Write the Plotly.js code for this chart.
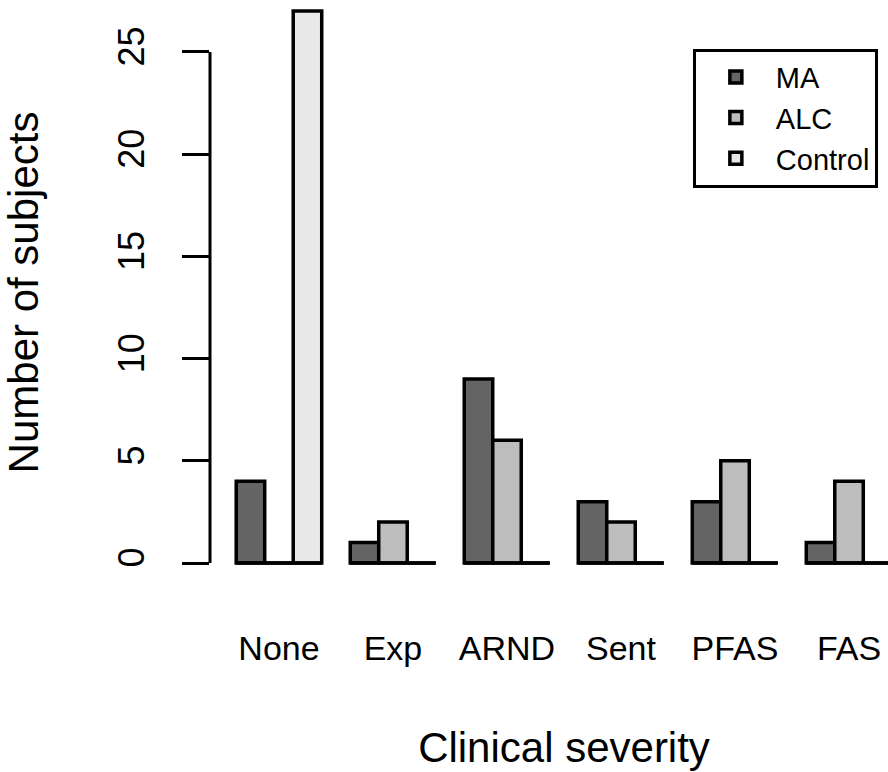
<!DOCTYPE html>
<html><head><meta charset="utf-8">
<script src="https://cdn.plot.ly/plotly-3.0.1.min.js"></script>
<style>
html,body{margin:0;padding:0;background:#fff;overflow:hidden}
#wrap{width:888px;height:772px;overflow:hidden;position:relative}
#chart{width:920px;height:772px}
</style></head>
<body><div id="wrap"><div id="chart"></div></div>
<script>
// ---- data ----
const categories = ["None", "Exp", "ARND", "Sent", "PFAS", "FAS"];
const seriesNames = ["MA", "ALC", "Control"];
const maValues = [4, 1, 9, 3, 3, 1];
const alcValues = [0, 2, 6, 2, 5, 4];
const controlValues = [27, 0, 0, 0, 0, 0];
const yTickValues = [0, 5, 10, 15, 20, 25];
const xTitle = "Clinical severity";
const yTitle = "Number of subjects";

// ---- build ----
const seriesValues = [maValues, alcValues, controlValues];
const fills = ["#646464", "#bdbdbd", "#e8e8e8"];
const nS = seriesNames.length;
const groupWidth = nS + 1;               // one unit of space before each group
const groupStart = categories.map((c, i) => 1 + i * groupWidth);
const groupCenter = groupStart.map(s => s + nS / 2);
const xMin = groupStart[0], xMax = groupStart[groupStart.length - 1] + nS;
const xPad = 0.04 * (xMax - xMin);

const traces = seriesValues.map((vals, j) => ({
  type: 'bar',
  name: seriesNames[j],
  x: categories.map((c, i) => groupStart[i] + j + 0.5),
  y: vals,
  width: 1,
  marker: {color: fills[j], line: {color: '#000', width: 3.5}},
  hovertemplate: '%{y}<extra>' + seriesNames[j] + '</extra>'
}));

// zero-height bars drawn as a baseline under each group
const bx = [], by = [];
groupStart.forEach(s => { bx.push(s, s + nS, null); by.push(0, 0, null); });
traces.push({
  type: 'scatter', mode: 'lines', x: bx, y: by,
  line: {color: '#000', width: 3.5}, showlegend: false, hoverinfo: 'skip'
});

const font = "'Liberation Sans', Arial, Helvetica, sans-serif";
const layout = {
  width: 920, height: 772,
  margin: {l: 210, r: 2, t: 0, b: 187},
  paper_bgcolor: '#fff', plot_bgcolor: '#fff',
  font: {family: font, color: '#000'},
  barmode: 'overlay',
  showlegend: true,
  legend: {
    x: 0.682, xanchor: 'left', y: 0.917, yanchor: 'top',
    bordercolor: '#000', borderwidth: 3, bgcolor: '#fff',
    font: {family: font, size: 29, color: '#000'},
    itemwidth: 70, traceorder: 'normal'
  },
  xaxis: {
    range: [xMin - xPad, xMax + xPad],
    tickmode: 'array', tickvals: groupCenter, ticktext: categories,
    ticks: '', showline: false, zeroline: false, showgrid: false,
    tickfont: {family: font, size: 34, color: '#000'},
    ticklabelstandoff: 40,
    automargin: false,
    title: {text: xTitle, font: {family: font, size: 42, color: '#000'}, standoff: 66}
  },
  yaxis: {
    range: [-1.076, 27.54],
    tickmode: 'array', tickvals: yTickValues, ticktext: yTickValues.map(String),
    ticks: 'outside', ticklen: 27, tickwidth: 3, tickcolor: '#000',
    tickangle: -90,
    showline: false, zeroline: false, showgrid: false,
    tickfont: {family: font, size: 36, color: '#000'},
    ticklabelstandoff: 24,
    automargin: false,
    title: {text: yTitle, font: {family: font, size: 42, color: '#000'}, standoff: 62}
  },
  shapes: [{
    type: 'line', xref: 'paper', yref: 'y', x0: 0, x1: 0,
    y0: yTickValues[0], y1: yTickValues[yTickValues.length - 1],
    line: {color: '#000', width: 3}
  }]
};

Plotly.newPlot('chart', traces, layout, {displayModeBar: false, staticPlot: false});
</script>
</body></html>
